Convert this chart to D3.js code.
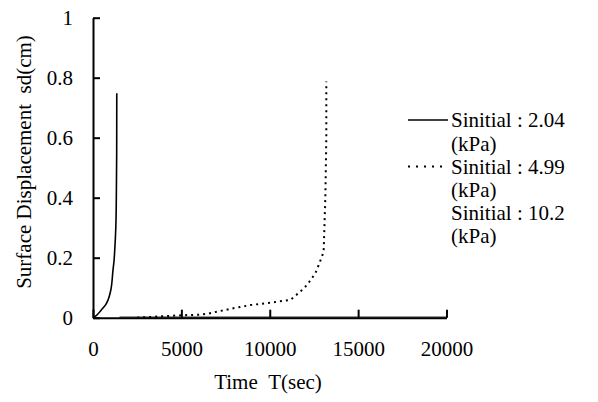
<!DOCTYPE html>
<html><head><meta charset="utf-8"><script src="https://cdn.jsdelivr.net/npm/d3@7"></script></head>
<body style="margin:0">
<svg id="c" width="598" height="402"></svg>
<script>
// ---- data ----
const xTicks = [0, 5000, 10000, 15000, 20000];
const yTicks = [0, 0.2, 0.4, 0.6, 0.8, 1];
const yTickLabels = ["0", "0.2", "0.4", "0.6", "0.8", "1"];

const s204T = [0, 200, 470, 700, 850, 1000, 1130, 1190, 1230, 1290, 1320, 1340, 1345];
const s204V = [0, 0.008, 0.026, 0.042, 0.059, 0.09, 0.158, 0.19, 0.226, 0.3, 0.4, 0.55, 0.748];

const s499T = [2500, 4000, 5000, 6000, 6500, 7000, 8000, 8900, 10000, 11160, 11730, 12110, 12580, 12800, 13050, 13145, 13200, 13200];
const s499V = [0, 0.005, 0.008, 0.01, 0.013, 0.02, 0.032, 0.042, 0.05, 0.059, 0.087, 0.109, 0.148, 0.18, 0.22, 0.4, 0.6, 0.787];

const s102T = [1500, 5000, 10000, 15000, 20000];
const s102V = [0.002, 0.002, 0.002, 0.002, 0.002];

const legendLabels = ["Sinitial : 2.04", "(kPa)", "Sinitial : 4.99", "(kPa)", "Sinitial : 10.2", "(kPa)"];

// ---- chart ----
const svg = d3.select("#c");
svg.style("font-family", "Liberation Serif");
const x = d3.scaleLinear().domain([0, 20000]).range([93, 446.5]);
const y = d3.scaleLinear().domain([0, 1]).range([317.7, 17.7]);

function styleText(sel) {
  sel.style("font-family", "Liberation Serif").style("font-size", "21px");
}

// y axis
const yAxis = svg.append("g").attr("transform", "translate(" + x(0) + ",0)")
  .call(d3.axisLeft(y).tickValues(yTicks).tickFormat((d, i) => yTickLabels[i])
    .tickSizeInner(-7).tickSizeOuter(0).tickPadding(20));
yAxis.style("font-family", "Liberation Serif").style("font-size", "21px");
yAxis.select(".domain").attr("stroke-width", 2);
yAxis.selectAll(".tick line").attr("stroke-width", 2);
styleText(yAxis.selectAll("text"));

// x axis
const xAxis = svg.append("g").attr("transform", "translate(0," + y(0) + ")")
  .call(d3.axisBottom(x).tickValues(xTicks).tickFormat(d3.format("d"))
    .tickSizeInner(-8).tickSizeOuter(0).tickPadding(23));
xAxis.style("font-family", "Liberation Serif").style("font-size", "21px");
xAxis.select(".domain").attr("stroke-width", 2);
xAxis.selectAll(".tick line").attr("stroke-width", 2);
styleText(xAxis.selectAll("text"));

// axis titles
styleText(svg.append("text")
  .attr("transform", "translate(31,162) rotate(-90)")
  .attr("text-anchor", "middle")
  .text("Surface Displacement\u00A0\u00A0sd(cm)"));
styleText(svg.append("text")
  .attr("x", 268).attr("y", 389)
  .attr("text-anchor", "middle")
  .text("Time\u00A0\u00A0T(sec)"));

// lines
svg.append("path")
  .datum(s204T.map((t, i) => [t, s204V[i]]))
  .attr("fill", "none").attr("stroke", "#000").attr("stroke-width", 1.6)
  .attr("d", d3.line().x(d => x(d[0])).y(d => y(d[1])).curve(d3.curveMonotoneY));

svg.append("path")
  .datum(s499T.map((t, i) => [t, s499V[i]]))
  .attr("fill", "none").attr("stroke", "#000").attr("stroke-width", 2)
  .attr("stroke-dasharray", "2,4")
  .attr("d", d3.line().x(d => x(d[0])).y(d => y(d[1])));

svg.append("path")
  .datum(s102T.map((t, i) => [t, s102V[i]]))
  .attr("fill", "none").attr("stroke", "#000").attr("stroke-width", 1)
  .attr("d", d3.line().x(d => x(d[0])).y(d => y(d[1])));

// legend
const legY0 = 120, legDy = 23.2;
svg.append("line").attr("x1", 408).attr("x2", 448).attr("y1", legY0).attr("y2", legY0)
  .attr("stroke", "#000").attr("stroke-width", 1.5);
svg.append("line").attr("x1", 408).attr("x2", 446).attr("y1", legY0 + 2 * legDy).attr("y2", legY0 + 2 * legDy)
  .attr("stroke", "#000").attr("stroke-width", 2).attr("stroke-dasharray", "2,6");
legendLabels.forEach((lab, i) => {
  styleText(svg.append("text")
    .attr("x", 451).attr("y", legY0 + i * legDy)
    .attr("dy", "0.35em")
    .text(lab));
});
</script></body></html>
